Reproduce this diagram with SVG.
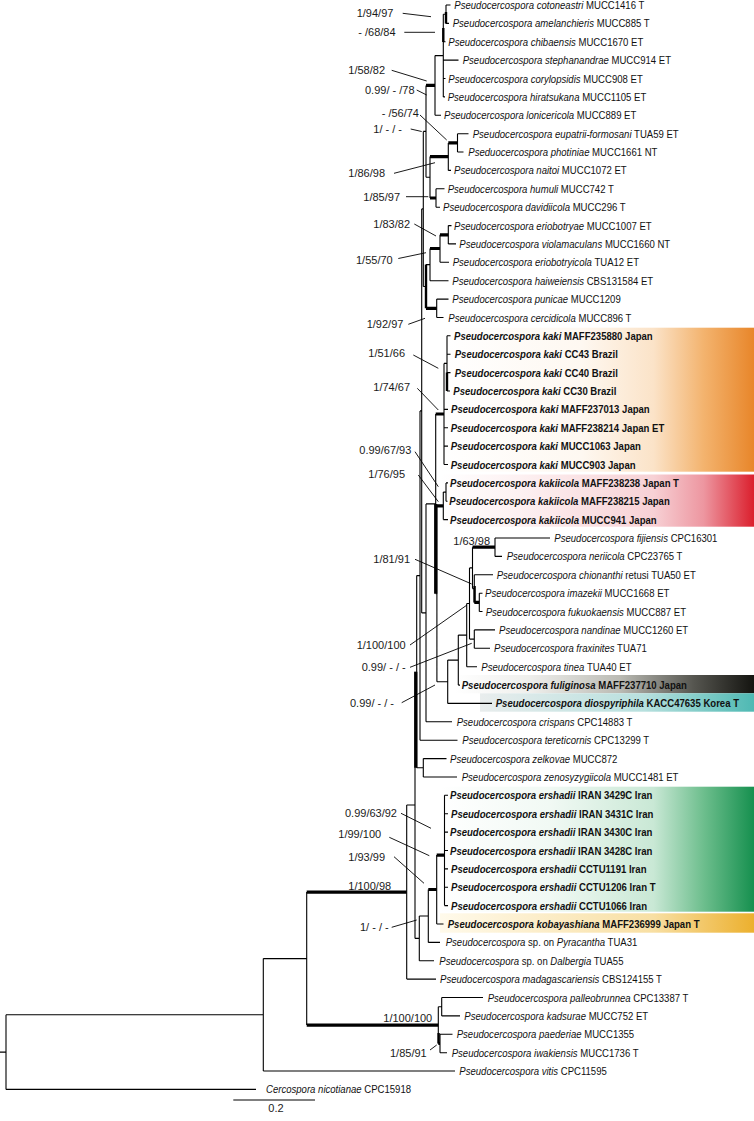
<svg xmlns="http://www.w3.org/2000/svg" width="754" height="1121" viewBox="0 0 754 1121">
<defs>
<style>
.sp{font-family:"Liberation Sans",Arial,sans-serif;font-size:11px;fill:#111}
.lb{font-family:"Liberation Sans",Arial,sans-serif;font-size:11px;fill:#1a1a1a}
.i{font-style:italic}
.b{font-weight:bold}
.e{stroke:#000;stroke-width:1.1;fill:none}
.t{stroke:#000;stroke-width:3.2;fill:none}
.m{stroke:#000;stroke-width:2.4;fill:none}
.ld{stroke:#000;stroke-width:0.9;fill:none}
</style>
<linearGradient id="gKaki" gradientUnits="userSpaceOnUse" x1="440" y1="0" x2="754" y2="0">
<stop offset="0" stop-color="#fff"/><stop offset="0.45" stop-color="#FEF8F1"/><stop offset="0.68" stop-color="#FBE3C8"/><stop offset="0.84" stop-color="#F3B36E"/><stop offset="1" stop-color="#E8862A"/>
</linearGradient>
<linearGradient id="gKakiicola" gradientUnits="userSpaceOnUse" x1="440" y1="0" x2="754" y2="0">
<stop offset="0" stop-color="#fff"/><stop offset="0.25" stop-color="#FDF1F2"/><stop offset="0.68" stop-color="#F7D1D5"/><stop offset="0.84" stop-color="#ED96A0"/><stop offset="1" stop-color="#DB1F2D"/>
</linearGradient>
<linearGradient id="gFul" gradientUnits="userSpaceOnUse" x1="455" y1="0" x2="754" y2="0">
<stop offset="0" stop-color="#fff"/><stop offset="0.25" stop-color="#EFEFEC"/><stop offset="0.55" stop-color="#BBBBB4"/><stop offset="0.8" stop-color="#55554F"/><stop offset="1" stop-color="#141410"/>
</linearGradient>
<linearGradient id="gDio" gradientUnits="userSpaceOnUse" x1="480" y1="0" x2="754" y2="0">
<stop offset="0" stop-color="#E9EDED"/><stop offset="0.6" stop-color="#B7E0DE"/><stop offset="1" stop-color="#4EB9B3"/>
</linearGradient>
<linearGradient id="gErs" gradientUnits="userSpaceOnUse" x1="440" y1="0" x2="754" y2="0">
<stop offset="0" stop-color="#fff"/><stop offset="0.35" stop-color="#F1F9F4"/><stop offset="0.68" stop-color="#C9E8D5"/><stop offset="0.84" stop-color="#6DBE8D"/><stop offset="1" stop-color="#16904F"/>
</linearGradient>
<linearGradient id="gKob" gradientUnits="userSpaceOnUse" x1="440" y1="0" x2="754" y2="0">
<stop offset="0" stop-color="#FFFAEB"/><stop offset="0.68" stop-color="#F8DFA3"/><stop offset="1" stop-color="#ECB02E"/>
</linearGradient>
</defs>
<rect width="754" height="1121" fill="#fff"/>

<g id="bands">
<rect x="440" y="327.7" width="314" height="144" fill="url(#gKaki)"/>
<rect x="440" y="474.5" width="314" height="52.2" fill="url(#gKakiicola)"/>
<rect x="455" y="675" width="299" height="18.3" fill="url(#gFul)"/>
<rect x="480" y="693.3" width="274" height="18.4" fill="url(#gDio)"/>
<rect x="440" y="786.7" width="314" height="125" fill="url(#gErs)"/>
<rect x="440" y="913.3" width="314" height="19.4" fill="url(#gKob)"/>
</g>

<g id="connectors">
<path class="e" d="M0,1052.1H6 M6,1014.8V1089.4 M6,1014.8H263.3 M6,1089.4H256
M263.3,958.6V1071 M263.3,958.6H306.7 M263.3,1071H455
M306.7,892.1V1025.1
M438.3,1006.7V1043.5 M438.3,1006.7H441.7
M441.7,997.5V1015.9 M441.7,997.5H483 M441.7,1015.9H460
M440,1034.3V1052.7 M440,1034.3H452.5 M440,1052.7H447
M406.7,805V979.1 M406.7,805H415 M406.7,979.1H436
M415,671.7V938.4 M415,938.4H419.3
M416.7,575.6V767.8 M416.7,575.6H420 M416.7,767.8H423.3
M423.3,758.6V777 M423.3,758.6H446.5 M423.3,777H457
M420,410.9V740.2 M420,410.9H421.7 M420,740.2H457.5
M421.7,208.9V612.9 M421.7,208.9H423.3 M421.7,612.9H426
M426,503.9V721.8 M426,503.9H435.7 M426,721.8H452
M435.7,414V503.9 M435.7,593.8H436.9
M436.9,505.9V681.8 M436.9,681.8H447.7
M443.3,492.1V519.6 M443.3,492.1H446 M443.3,519.6H448
M446,482.9V501.3 M446,482.9H448 M446,501.3H447.5
M444,363.4V464.5 M444,363.4H447 M444,409.4H448 M444,427.7H448 M444,446.1H448 M444,464.5H448
M447,335.8V391 M447,335.8H450.5 M447,354.2H450.5 M447,372.6H450.5 M447,391H450
M447.7,660.1V703.4 M447.7,660.1H458.3 M447.7,703.4H492
M458.3,635.1V685.1 M458.3,635.1H466.7 M458.3,685.1H460
M466.7,603.5V666.7 M466.7,603.5H469.5 M466.7,666.7H477
M469.5,567.9V639.1 M469.5,567.9H472.5 M469.5,639.1H474.3
M474.3,629.9V648.3 M474.3,629.9H495 M474.3,648.3H490
M472.5,547.2V588.6 M472.5,588.6H474.3
M495,538V556.4 M495,538H550 M495,556.4H502
M474.3,574.8V602.4 M474.3,574.8H493
M479.3,593.2V611.5 M479.3,593.2H482.5 M479.3,611.5H482.5
M444.5,795.3V905.6 M444.5,795.3H448 M444.5,813.7H448 M444.5,832.1H448 M444.5,850.5H448 M444.5,868.9H448 M444.5,887.2H448 M444.5,905.6H448
M436.7,855.1V924 M436.7,924H443.5
M428.3,889.5V942.4 M428.3,942.4H440
M419.3,916V960.8 M419.3,916H428.3 M419.3,960.8H434
M423.3,131.4V286.5 M423.3,131.4H426 M423.3,286.5H426
M426,85.4V177.3 M426,177.3H430
M435,55.6V115.3 M435,55.6H443.3 M435,115.3H441
M443.3,14.2V96.9 M443.3,14.2H446 M443.3,41.8H445.5 M443.3,60.1H458.5 M443.3,78.5H445.5 M443.3,96.9H445
M446,5V23.4 M446,5H450.5 M446,23.4H449
M457.5,133.7V152 M457.5,133.7H468.5 M457.5,152H463.5
M448.3,142.9V170.4 M448.3,170.4H451
M436,188.8V207.2 M436,188.8H444.5 M436,207.2H440
M430,156.6V198
M448.3,225.6V243.9 M448.3,225.6H451.5 M448.3,243.9H456
M440,234.8V262.3 M440,262.3H449
M430,248.5V280.7 M430,280.7H448.5
M426,264.6H430
M436.7,299.1V317.5 M436.7,299.1H448.5 M436.7,317.5H443.5"/>
<path class="t" d="M306.7,892.1H406.7 M306.7,1025.1H438.3 M438.3,1043.5H440
M415.8,671.7V767.8
M435.7,503.9V593.8 M435.7,414H444 M436.9,505.9H443.3
M472.5,547.2H495 M474.3,602.4H479.3
M436.7,855.1H444.5 M428.3,889.5H436.7
M426,85.4H435 M448.3,142.9H457.5 M430,156.6H448.3 M430,198H436
M440,234.8H448.3 M430,248.5H440 M426,308.3H436.7"/>
<path class="m" d="M438.6,1033V1043.5 M474.6,586V602.4 M426,264.6V308.3 M447,372.6V391 M446,12V23.4 M443.3,28V42"/>
<path class="ld" d="M402.7,13.3L431,16.7 M404.3,32.3L435,32.3 M391.7,70.3L426.7,81 M416.7,90L426.7,95 M420,115L446.7,140 M410.7,129L421.7,131.5 M394,173.3L435,162.7 M406,196.7L428.3,196.7 M414.3,224L436,236 M398.3,258.5L426,252.7 M408.3,324.3L425,318.3 M413.3,355L438.3,368.3 M417.3,388.3L438.3,410 M415,451.7L438.3,486.7 M418.3,475L438.3,501.7 M415,559.3L471.7,584 M410,645L467,605 M410,667.3L471.7,643.3 M401.7,702.7L435,685 M401,813.3L431,828.3 M389.3,837.3L429.3,855.7 M394,856.7L424,883.3 M391.7,927.3L416.7,920 M430,1050L436.7,1045"/>
<path class="e" d="M233.3,1100H315"/>
</g>

<g id="support-labels" class="lb">
<text x="356.7" y="17.3">1/94/97</text>
<text x="358.3" y="36.3">- /68/84</text>
<text x="348.3" y="74.3">1/58/82</text>
<text x="365" y="94">0.99/ - /78</text>
<text x="381.7" y="116.7">- /56/74</text>
<text x="373.3" y="133">1/ - / -</text>
<text x="348.3" y="177.3">1/86/98</text>
<text x="363.3" y="200.7">1/85/97</text>
<text x="373.3" y="228">1/83/82</text>
<text x="356" y="264">1/55/70</text>
<text x="366.7" y="328.3">1/92/97</text>
<text x="368.3" y="357.3">1/51/66</text>
<text x="373.3" y="390.7">1/74/67</text>
<text x="359.3" y="454">0.99/67/93</text>
<text x="368.3" y="478">1/76/95</text>
<text x="453.3" y="545.2">1/63/98</text>
<text x="373.3" y="563.3">1/81/91</text>
<text x="356.7" y="649">1/100/100</text>
<text x="361.7" y="671.3">0.99/ - / -</text>
<text x="350" y="706.7">0.99/ - / -</text>
<text x="345" y="817.3">0.99/63/92</text>
<text x="338.3" y="838">1/99/100</text>
<text x="348.3" y="860.7">1/93/99</text>
<text x="348.3" y="889.5">1/100/98</text>
<text x="360" y="931.3">1/ - / -</text>
<text x="383.3" y="1021.8">1/100/100</text>
<text x="390" y="1056.7">1/85/91</text>
<text x="276" y="1112.3" text-anchor="middle">0.2</text>
</g>

<g class="sp">
<g id="t01"><text transform="matrix(.87 0 0 1 454.3 9)"><tspan class="i">Pseudocercospora cotoneastri</tspan> MUCC1416 T</text></g>
<g id="t02"><text transform="matrix(.87 0 0 1 452.7 27.4)"><tspan class="i">Pseudocercospora amelanchieris</tspan> MUCC885 T</text></g>
<g id="t03"><text transform="matrix(.87 0 0 1 448.3 45.8)"><tspan class="i">Pseudocercospora chibaensis</tspan> MUCC1670 ET</text></g>
<g id="t04"><text transform="matrix(.87 0 0 1 462.7 64.1)"><tspan class="i">Pseudocercospora stephanandrae</tspan> MUCC914 ET</text></g>
<g id="t05"><text transform="matrix(.87 0 0 1 448.3 82.5)"><tspan class="i">Pseudocercospora corylopsidis</tspan> MUCC908 ET</text></g>
<g id="t06"><text transform="matrix(.87 0 0 1 447.7 100.9)"><tspan class="i">Pseudocercospora hiratsukana</tspan> MUCC1105 ET</text></g>
<g id="t07"><text transform="matrix(.87 0 0 1 444 119.3)"><tspan class="i">Pseudocercospora lonicericola</tspan> MUCC889 ET</text></g>
<g id="t08"><text transform="matrix(.87 0 0 1 472.7 137.7)"><tspan class="i">Pseudocercospora eupatrii-formosani</tspan> TUA59 ET</text></g>
<g id="t09"><text transform="matrix(.87 0 0 1 468.3 156)"><tspan class="i">Pseduocercospora photiniae</tspan> MUCC1661 NT</text></g>
<g id="t10"><text transform="matrix(.87 0 0 1 454 174.4)"><tspan class="i">Pseudocercospora naitoi</tspan> MUCC1072 ET</text></g>
<g id="t11"><text transform="matrix(.87 0 0 1 447.7 192.8)"><tspan class="i">Pseudocercospora humuli</tspan> MUCC742 T</text></g>
<g id="t12"><text transform="matrix(.87 0 0 1 443 211.2)"><tspan class="i">Pseudocercospora davidiicola</tspan> MUCC296 T</text></g>
<g id="t13"><text transform="matrix(.87 0 0 1 454 229.6)"><tspan class="i">Pseudocercospora eriobotryae</tspan> MUCC1007 ET</text></g>
<g id="t14"><text transform="matrix(.87 0 0 1 459.3 247.9)"><tspan class="i">Pseudocercospora violamaculans</tspan> MUCC1660 NT</text></g>
<g id="t15"><text transform="matrix(.87 0 0 1 452.7 266.3)"><tspan class="i">Pseudocercospora eriobotryicola</tspan> TUA12 ET</text></g>
<g id="t16"><text transform="matrix(.87 0 0 1 452.3 284.7)"><tspan class="i">Pseudocercospora haiweiensis</tspan> CBS131584 ET</text></g>
<g id="t17"><text transform="matrix(.87 0 0 1 452.3 303.1)"><tspan class="i">Pseudocercospora punicae</tspan> MUCC1209</text></g>
<g id="t18"><text transform="matrix(.87 0 0 1 448.3 321.5)"><tspan class="i">Pseudocercospora cercidicola</tspan> MUCC896 T</text></g>
<g id="t19" class="b"><text transform="matrix(.87 0 0 1 454 339.8)"><tspan class="i">Pseudocercospora kaki</tspan> MAFF235880 Japan</text></g>
<g id="t20" class="b"><text transform="matrix(.87 0 0 1 454.7 358.2)"><tspan class="i">Pseudocercospora kaki</tspan> CC43 Brazil</text></g>
<g id="t21" class="b"><text transform="matrix(.87 0 0 1 454.7 376.6)"><tspan class="i">Pseudocercospora kaki</tspan> CC40 Brazil</text></g>
<g id="t22" class="b"><text transform="matrix(.87 0 0 1 453.3 395)"><tspan class="i">Pseudocercospora kaki</tspan> CC30 Brazil</text></g>
<g id="t23" class="b"><text transform="matrix(.87 0 0 1 451 413.4)"><tspan class="i">Pseudocercospora kaki</tspan> MAFF237013 Japan</text></g>
<g id="t24" class="b"><text transform="matrix(.87 0 0 1 450.7 431.7)"><tspan class="i">Pseudocercospora kaki</tspan> MAFF238214 Japan ET</text></g>
<g id="t25" class="b"><text transform="matrix(.87 0 0 1 450.7 450.1)"><tspan class="i">Pseudocercospora kaki</tspan> MUCC1063 Japan</text></g>
<g id="t26" class="b"><text transform="matrix(.87 0 0 1 450.7 468.5)"><tspan class="i">Pseudocercospora kaki</tspan> MUCC903 Japan</text></g>
<g id="t27" class="b"><text transform="matrix(.87 0 0 1 450 486.9)"><tspan class="i">Pseudocercospora kakiicola</tspan> MAFF238238 Japan T</text></g>
<g id="t28" class="b"><text transform="matrix(.87 0 0 1 449.3 505.3)"><tspan class="i">Pseudocercospora kakiicola</tspan> MAFF238215 Japan</text></g>
<g id="t29" class="b"><text transform="matrix(.87 0 0 1 450 523.6)"><tspan class="i">Pseudocercospora kakiicola</tspan> MUCC941 Japan</text></g>
<g id="t30"><text transform="matrix(.87 0 0 1 554.3 542)"><tspan class="i">Pseudocercospora fijiensis</tspan> CPC16301</text></g>
<g id="t31"><text transform="matrix(.87 0 0 1 506.7 560.4)"><tspan class="i">Pseudocercospora neriicola</tspan> CPC23765 T</text></g>
<g id="t32"><text transform="matrix(.87 0 0 1 496.7 578.8)"><tspan class="i">Pseudocercospora chionanthi</tspan> retusi TUA50 ET</text></g>
<g id="t33"><text transform="matrix(.87 0 0 1 485 597.2)"><tspan class="i">Pseudocercospora imazekii</tspan> MUCC1668 ET</text></g>
<g id="t34"><text transform="matrix(.87 0 0 1 485.7 615.5)"><tspan class="i">Pseudocercospora fukuokaensis</tspan> MUCC887 ET</text></g>
<g id="t35"><text transform="matrix(.87 0 0 1 499 633.9)"><tspan class="i">Pseudocercospora nandinae</tspan> MUCC1260 ET</text></g>
<g id="t36"><text transform="matrix(.87 0 0 1 494 652.3)"><tspan class="i">Pseudocercospora fraxinites</tspan> TUA71</text></g>
<g id="t37"><text transform="matrix(.87 0 0 1 481.3 670.7)"><tspan class="i">Pseudocercospora tinea</tspan> TUA40 ET</text></g>
<g id="t38" class="b"><text transform="matrix(.87 0 0 1 461.7 689.1)"><tspan class="i">Pseudocercospora fuliginosa</tspan> MAFF237710 Japan</text></g>
<g id="t39" class="b"><text transform="matrix(.87 0 0 1 495.7 707.4)"><tspan class="i">Pseudocercospora diospyriphila</tspan> KACC47635 Korea T</text></g>
<g id="t40"><text transform="matrix(.87 0 0 1 456.7 725.8)"><tspan class="i">Pseudocercospora crispans</tspan> CPC14883 T</text></g>
<g id="t41"><text transform="matrix(.87 0 0 1 462.3 744.2)"><tspan class="i">Pseudocercospora tereticornis</tspan> CPC13299 T</text></g>
<g id="t42"><text transform="matrix(.87 0 0 1 450 762.6)"><tspan class="i">Pseudocercospora zelkovae</tspan> MUCC872</text></g>
<g id="t43"><text transform="matrix(.87 0 0 1 461.7 781)"><tspan class="i">Pseudocercospora zenosyzygiicola</tspan> MUCC1481 ET</text></g>
<g id="t44" class="b"><text transform="matrix(.87 0 0 1 450 799.3)"><tspan class="i">Pseudocercospora ershadii</tspan> IRAN 3429C Iran</text></g>
<g id="t45" class="b"><text transform="matrix(.87 0 0 1 451 817.7)"><tspan class="i">Pseudocercospora ershadii</tspan> IRAN 3431C Iran</text></g>
<g id="t46" class="b"><text transform="matrix(.87 0 0 1 450 836.1)"><tspan class="i">Pseudocercospora ershadii</tspan> IRAN 3430C Iran</text></g>
<g id="t47" class="b"><text transform="matrix(.87 0 0 1 450 854.5)"><tspan class="i">Pseudocercospora ershadii</tspan> IRAN 3428C Iran</text></g>
<g id="t48" class="b"><text transform="matrix(.87 0 0 1 451 872.9)"><tspan class="i">Pseudocercospora ershadii</tspan> CCTU1191 Iran</text></g>
<g id="t49" class="b"><text transform="matrix(.87 0 0 1 451 891.2)"><tspan class="i">Pseudocercospora ershadii</tspan> CCTU1206 Iran T</text></g>
<g id="t50" class="b"><text transform="matrix(.87 0 0 1 451 909.6)"><tspan class="i">Pseudocercospora ershadii</tspan> CCTU1066 Iran</text></g>
<g id="t51" class="b"><text transform="matrix(.87 0 0 1 447.7 928)"><tspan class="i">Pseudocercospora kobayashiana</tspan> MAFF236999 Japan T</text></g>
<g id="t52"><text transform="matrix(.87 0 0 1 445.7 946.4)"><tspan class="i">Pseudocercospora</tspan> sp. on <tspan class="i">Pyracantha</tspan> TUA31</text></g>
<g id="t53"><text transform="matrix(.87 0 0 1 439.3 964.8)"><tspan class="i">Pseudocercospora</tspan> sp. on <tspan class="i">Dalbergia</tspan> TUA55</text></g>
<g id="t54"><text transform="matrix(.87 0 0 1 440 983.1)"><tspan class="i">Pseudocercospora madagascariensis</tspan> CBS124155 T</text></g>
<g id="t55"><text transform="matrix(.87 0 0 1 487.7 1001.5)"><tspan class="i">Pseudocercospora palleobrunnea</tspan> CPC13387 T</text></g>
<g id="t56"><text transform="matrix(.87 0 0 1 464.3 1019.9)"><tspan class="i">Pseudocercospora kadsurae</tspan> MUCC752 ET</text></g>
<g id="t57"><text transform="matrix(.87 0 0 1 456.7 1038.3)"><tspan class="i">Pseudocercospora paederiae</tspan> MUCC1355</text></g>
<g id="t58"><text transform="matrix(.87 0 0 1 451.7 1056.7)"><tspan class="i">Pseudocercospora iwakiensis</tspan> MUCC1736 T</text></g>
<g id="t59"><text transform="matrix(.87 0 0 1 459.3 1075)"><tspan class="i">Pseudocercospora vitis</tspan> CPC11595</text></g>
<g id="t60"><text transform="matrix(.87 0 0 1 266 1093.4)"><tspan class="i">Cercospora nicotianae</tspan> CPC15918</text></g>
</g>
</svg>
